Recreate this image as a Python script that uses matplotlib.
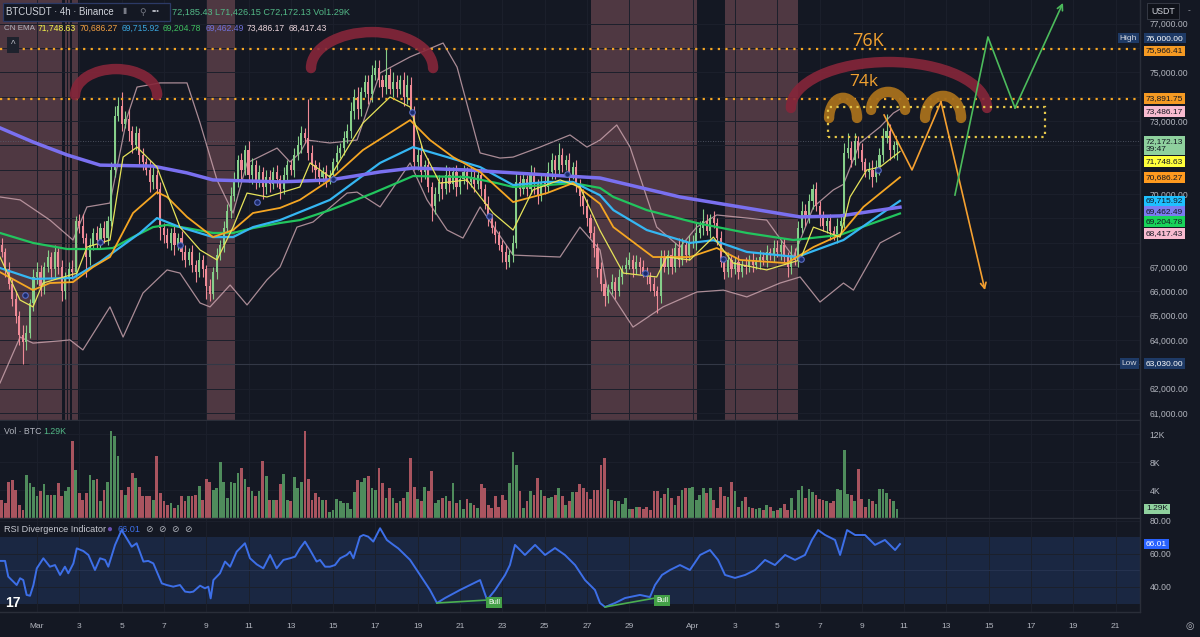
import matplotlib
matplotlib.use("Agg")
import matplotlib.pyplot as plt
import matplotlib.transforms as mtransforms
from matplotlib.patches import Arc, Rectangle, FancyBboxPatch
import numpy as np

plt.rcParams['font.family'] = ['Liberation Sans', 'DejaVu Sans']

# ---------------- data ----------------
# 4h candles from Feb 28 08:00 to Apr 10 16:00, closes in thousand USDT, one row per day
first_open = 67.9
closes_by_day = [
    [67.6, 66.9, 66.3, 65.7],                  # Feb 28
    [65.0, 64.2, 63.9, 64.3, 65.5, 66.6],      # Feb 29
    [66.8, 66.2, 67.0, 67.4, 66.9, 67.6],      # Mar 1
    [67.0, 66.0, 66.6, 66.9, 66.8, 68.9],
    [68.7, 68.2, 67.4, 67.9, 68.4, 68.1],
    [68.6, 68.2, 68.9, 71.0, 73.2, 73.6],
    [72.9, 73.1, 72.6, 72.0, 72.5, 71.6],      # Mar 5
    [71.3, 71.0, 70.5, 70.8, 70.2, 68.6],
    [68.3, 68.0, 68.4, 67.9, 68.2, 67.6],
    [67.3, 67.6, 67.1, 66.8, 67.3, 66.9],
    [66.2, 65.9, 66.8, 67.5, 67.9, 68.6],      # Mar 9
    [69.3, 69.9, 70.6, 71.4, 71.0, 71.8],
    [70.8, 71.2, 70.5, 70.9, 70.3, 70.7],
    [70.4, 70.9, 70.6, 70.2, 70.8, 71.2],
    [71.0, 71.6, 72.0, 72.5, 72.3, 71.7],      # Mar 13
    [71.2, 71.0, 70.7, 70.9, 70.6, 70.8],
    [71.3, 71.7, 71.9, 72.3, 72.6, 73.4],
    [74.0, 73.5, 74.2, 74.6, 74.1, 74.9],
    [75.2, 74.7, 74.4, 74.9, 74.3, 74.6],      # Mar 17
    [74.3, 74.7, 74.0, 74.5, 73.4, 71.3],
    [71.6, 70.9, 71.2, 70.3, 69.5, 70.0],
    [70.5, 70.2, 70.8, 70.4, 70.9, 70.3],
    [70.6, 70.9, 70.5, 70.7, 70.4, 70.8],      # Mar 21
    [70.2, 69.6, 69.0, 68.6, 68.3, 67.9],
    [67.6, 67.2, 67.5, 68.0, 70.5, 70.2],
    [70.6, 70.2, 70.8, 70.4, 69.9, 70.5],
    [70.3, 70.9, 71.4, 71.0, 71.6, 71.2],      # Mar 25
    [71.4, 70.8, 71.1, 70.4, 69.9, 69.5],
    [69.0, 68.4, 67.8, 66.9, 66.3, 65.8],
    [66.1, 66.4, 66.0, 66.6, 66.9, 67.1],
    [67.3, 66.9, 67.2, 67.0, 66.8, 66.6],      # Mar 29
    [66.3, 66.0, 65.8, 67.4, 67.0, 67.5],
    [67.0, 67.8, 67.3, 67.9, 67.5, 68.0],
    [68.0, 68.4, 68.6, 68.9, 68.5, 69.0],      # Apr 1
    [68.8, 68.2, 67.2, 66.8, 67.3, 66.9],
    [67.2, 66.8, 67.1, 67.0, 67.3, 67.1],
    [67.2, 67.4, 67.3, 67.6, 67.5, 67.8],
    [67.6, 67.9, 67.4, 67.0, 67.5, 67.3],      # Apr 5
    [68.6, 69.3, 69.0, 69.7, 70.2, 69.5],
    [69.0, 68.7, 68.9, 68.5, 68.3, 68.7],
    [68.9, 71.7, 71.9, 71.4, 72.2, 71.8],
    [71.3, 70.9, 71.0, 70.7, 71.1, 71.6],
    [72.3, 72.6, 71.8, 72.0, 72.17213],        # Apr 10
]
# upper / lower wick length beyond the body, in hundreds of USDT
wick_up_by_day = [
    [3, 2, 3, 2], [3, 2, 4, 3, 2, 3], [4, 3, 2, 3, 2, 3], [2, 3, 2, 3, 4, 2],
    [3, 5, 2, 3, 2, 3], [2, 3, 2, 3, 4, 4], [6, 3, 4, 2, 3, 2], [3, 2, 4, 3, 2, 3],
    [2, 3, 2, 3, 2, 3], [3, 2, 3, 2, 3, 2], [2, 3, 2, 3, 2, 3], [3, 4, 3, 2, 3, 2],
    [4, 3, 2, 3, 2, 3], [3, 2, 3, 2, 3, 2], [2, 3, 4, 3, 2, 16], [3, 2, 3, 2, 3, 2],
    [2, 3, 2, 3, 3, 4], [3, 4, 2, 3, 3, 4], [3, 3, 2, 11, 3, 4], [3, 2, 3, 4, 3, 2],
    [3, 4, 2, 3, 2, 3], [3, 2, 4, 3, 2, 3], [2, 3, 2, 4, 3, 2], [3, 2, 3, 2, 3, 2],
    [2, 3, 2, 3, 4, 3], [3, 2, 4, 3, 2, 3], [3, 4, 3, 2, 5, 3], [2, 3, 2, 3, 2, 3],
    [3, 2, 3, 2, 3, 2], [2, 3, 2, 3, 2, 3], [3, 2, 3, 2, 3, 2], [2, 3, 2, 3, 3, 2],
    [3, 2, 4, 3, 2, 3], [3, 4, 3, 5, 3, 2], [3, 2, 3, 2, 3, 2], [2, 3, 2, 3, 2, 3],
    [2, 3, 2, 3, 2, 3], [3, 2, 3, 2, 4, 3], [3, 4, 3, 3, 2, 3], [2, 3, 2, 3, 2, 3],
    [3, 4, 6, 3, 3, 2], [3, 2, 3, 4, 3, 3], [4, 7, 3, 2, 0],
]
wick_lo_by_day = [
    [2, 3, 2, 3], [3, 4, 9, 3, 2, 3], [3, 4, 3, 2, 4, 3], [3, 4, 3, 2, 3, 2],
    [3, 2, 8, 3, 2, 3], [3, 2, 3, 2, 3, 2], [3, 2, 4, 3, 2, 4], [3, 2, 4, 3, 2, 5],
    [3, 2, 3, 4, 2, 3], [3, 2, 3, 4, 2, 3], [5, 3, 2, 3, 2, 3], [2, 3, 2, 3, 4, 2],
    [3, 4, 3, 2, 5, 3], [3, 2, 3, 4, 2, 3], [2, 3, 2, 3, 2, 3], [3, 4, 3, 2, 3, 2],
    [2, 3, 2, 3, 2, 3], [3, 4, 3, 2, 4, 3], [2, 3, 4, 3, 2, 3], [3, 2, 4, 3, 2, 3],
    [3, 4, 3, 2, 6, 3], [3, 4, 2, 3, 2, 4], [3, 2, 3, 2, 3, 2], [3, 2, 3, 2, 3, 2],
    [4, 3, 2, 3, 2, 3], [2, 3, 2, 4, 3, 2], [3, 2, 3, 4, 2, 3], [2, 3, 2, 3, 4, 3],
    [3, 2, 4, 3, 3, 4], [3, 2, 3, 2, 3, 2], [2, 3, 2, 3, 2, 3], [3, 2, 7, 3, 2, 3],
    [3, 2, 3, 2, 3, 2], [2, 3, 2, 3, 2, 3], [2, 3, 2, 3, 2, 3], [2, 3, 2, 3, 2, 3],
    [2, 3, 2, 3, 2, 3], [2, 3, 2, 4, 3, 2], [3, 2, 3, 2, 3, 2], [3, 2, 3, 4, 2, 3],
    [2, 3, 2, 3, 2, 3], [3, 2, 3, 4, 2, 3], [3, 2, 4, 3, 6],
]
# volume per candle, thousand BTC
volume_k = [
    2.6, 2.2, 5.2, 5.4, 4.0, 1.9, 1.2, 6.2, 5.0, 4.5, 3.1, 3.8, 4.8, 3.3, 3.3, 3.3, 5.0, 3.1, 3.8, 4.5,
    11.0, 6.9, 3.6, 2.6, 3.6, 6.2, 5.5, 5.6, 2.4, 4.0, 5.2, 12.4, 11.7, 8.8, 4.0, 3.3, 4.5, 6.4, 5.7, 4.5,
    3.1, 3.1, 3.1, 2.6, 8.8, 3.6, 2.4, 1.9, 2.1, 1.4, 1.9, 3.1, 2.4, 3.1, 3.1, 3.3, 4.6, 2.6, 5.6, 5.2,
    4.0, 4.3, 8.0, 5.2, 2.9, 5.2, 5.0, 6.4, 7.1, 5.6, 4.5, 3.8, 3.1, 3.8, 8.1, 6.0, 2.6, 2.6, 2.6, 4.8,
    6.3, 2.6, 2.4, 5.9, 4.3, 5.2, 12.5, 5.6, 2.6, 3.6, 3.0, 2.6, 2.6, 0.8, 1.1, 2.7, 2.5, 2.2, 2.1, 1.3,
    3.7, 5.5, 5.2, 5.7, 6.0, 4.3, 4.0, 7.1, 5.0, 2.9, 4.3, 2.9, 2.2, 2.4, 2.9, 3.7, 8.6, 4.5, 2.7, 2.4,
    4.5, 3.8, 6.7, 2.1, 2.6, 2.9, 3.2, 2.4, 5.0, 2.1, 2.6, 1.3, 2.7, 2.1, 1.9, 1.4, 4.8, 4.3, 1.8, 1.4,
    3.1, 1.6, 3.3, 2.6, 5.0, 9.4, 7.6, 3.8, 1.4, 2.4, 3.8, 3.3, 5.7, 4.0, 3.2, 2.9, 3.0, 3.3, 4.3, 3.2,
    1.9, 2.4, 3.7, 3.7, 4.8, 4.3, 3.7, 2.7, 4.0,
    4.0, 7.6, 8.6, 4.1, 2.6, 2.5, 2.4, 2.0, 2.9, 1.3, 1.3, 1.6, 1.6, 1.3, 1.6, 1.2, 3.8, 3.9, 2.8, 3.5,
    4.3, 2.9, 1.9, 3.2, 4.0, 4.3, 4.3, 4.5, 2.6, 3.3, 4.3, 3.6, 4.3, 2.6, 1.4, 4.5, 3.2, 3.0, 5.2, 3.9,
    1.6, 2.4, 3.0, 1.6, 1.4, 1.3, 1.4, 1.1, 1.9, 1.6, 1.0, 1.2, 1.4, 2.0, 1.2, 2.9, 1.1, 4.0,
    4.6, 2.9, 4.1, 3.7, 3.3, 2.7, 2.6, 2.4, 2.1, 2.4, 4.1, 4.0, 9.7, 3.5, 3.3, 2.4, 7.0, 2.7, 1.6, 2.7,
    2.4, 2.0, 4.1, 4.1, 3.6, 2.7, 2.4, 1.29,
]

# indicator lines: day (0 = Mar 1) and value in thousand USDT
ema200_d = [-1.75, -0.19, 1.42, 2.98, 5.48, 7.09, 8.32, 11.49, 13.85, 16.22, 17.78, 20.33, 22.51, 26.62,
            30.40, 36.08, 37.97, 40.80]
ema200_v = [72.72, 72.14, 71.61, 71.19, 71.15, 70.87, 70.58, 70.50, 70.58, 70.91, 71.07, 70.99, 70.87, 70.66,
            69.88, 69.06, 69.10, 69.46]
ema100_d = [-1.75, -0.19, 1.42, 2.98, 3.59, 4.54, 5.48, 6.15, 7.09, 8.32, 9.27, 10.21, 11.49, 12.43, 13.85,
            15.89, 17.78, 20.33, 21.75, 22.51, 24.11, 25.34, 26.62, 27.25, 28.83, 31.19, 33.56, 35.76, 37.97, 40.80]
ema100_v = [68.40, 67.99, 67.74, 67.74, 67.78, 68.23, 68.64, 68.73, 68.60, 68.40, 68.40, 68.60, 68.81, 68.93, 69.34,
            70.04, 70.74, 70.70, 70.45, 70.29, 70.37, 70.45, 70.25, 69.88, 69.34, 68.81, 68.40, 68.11, 68.32, 69.20]
ema50_d = [-1.75, -0.19, 1.70, 2.98, 4.87, 5.67, 6.76, 8.32, 9.27, 10.21, 11.49, 13.85, 16.22, 17.78, 19.39,
           20.95, 22.51, 24.11, 25.34, 26.62, 27.25, 28.83, 30.87, 31.98, 33.56, 35.92, 38.13, 40.80]
ema50_v = [66.96, 66.51, 66.55, 67.21, 68.40, 69.01, 68.64, 68.23, 68.23, 68.64, 68.93, 69.76, 71.28, 71.93, 71.52,
           71.11, 70.37, 70.50, 70.50, 69.95, 69.34, 68.52, 67.99, 68.10, 67.62, 67.41, 68.11, 69.72]
ema21_d = [-1.75, -0.19, 0.61, 1.70, 2.65, 3.45, 4.54, 5.67, 6.15, 7.09, 8.32, 9.27, 10.21, 11.49, 12.43, 13.85,
           15.41, 17.64, 18.58, 19.67, 20.95, 22.51, 24.11, 25.34, 26.62, 27.25, 29.13, 30.87, 32.14, 33.24, 35.45,
           36.71, 37.97, 39.07, 40.80]
ema21_v = [66.79, 66.05, 66.34, 66.38, 67.00, 67.41, 69.22, 70.08, 69.88, 69.06, 68.23, 68.52, 69.22, 69.43, 69.76,
           70.58, 71.81, 73.04, 72.22, 71.52, 70.91, 69.67, 70.04, 70.45, 69.60, 68.64, 67.41, 67.41, 67.78, 67.29,
           67.16, 67.82, 68.32, 69.47, 70.69]
ema9_d = [-1.75, -0.80, -0.19, 0.28, 1.89, 2.36, 3.45, 4.07, 4.73, 5.67, 6.76, 7.71, 8.51, 9.27, 9.93, 10.87,
          12.43, 12.91, 13.85, 15.41, 16.69, 17.64, 18.25, 19.05, 20.33, 21.56, 22.51, 23.45, 24.73, 25.67, 26.62,
          27.72, 29.30, 29.77, 30.87, 31.98, 32.92, 34.50, 36.08, 36.71, 37.97, 38.44, 39.23, 39.86, 40.80]
ema9_v = [67.41, 65.64, 65.36, 66.34, 66.75, 67.82, 68.11, 71.52, 71.93, 71.11, 68.64, 67.70, 67.29, 68.64, 70.04,
          69.88, 70.29, 71.28, 70.70, 72.92, 73.99, 73.58, 71.81, 70.45, 70.58, 69.22, 68.52, 70.17, 70.58, 70.29,
          68.50, 66.75, 66.59, 67.41, 67.29, 68.23, 67.16, 66.88, 67.29, 68.64, 68.23, 69.88, 70.99, 71.11, 71.75]
bb_up_d = [-1.75, -0.80, 0.61, 1.70, 2.36, 3.45, 4.26, 4.73, 5.82, 7.09, 7.71, 8.51, 9.27, 9.93, 11.35, 11.96,
           12.43, 12.77, 13.85, 15.13, 16.22, 17.64, 19.20, 19.86, 20.95, 21.89, 22.51, 23.78, 25.20, 26.00, 26.62,
           27.41, 28.04, 29.30, 30.40, 31.19, 32.14, 34.50, 35.76, 36.71, 37.65, 38.13, 38.91, 39.86, 40.49, 40.80]
bb_up_v = [69.88, 69.76, 68.93, 68.11, 69.47, 69.63, 73.17, 74.40, 74.57, 74.57, 72.92, 70.58, 69.22, 71.28, 71.89,
           71.32, 71.69, 72.22, 72.10, 72.22, 74.98, 75.64, 76.21, 75.22, 71.69, 71.48, 71.52, 71.93, 72.43, 71.93,
           72.22, 72.84, 71.93, 68.64, 67.82, 68.64, 69.14, 68.93, 67.41, 69.47, 70.17, 70.40, 72.10, 72.76, 73.33,
           73.49]
bb_lo_d = [-1.75, -0.80, -0.19, 1.56, 2.17, 3.45, 4.07, 5.01, 6.15, 6.76, 7.71, 8.18, 9.13, 9.93, 10.87, 11.49,
           12.29, 13.05, 14.66, 15.13, 16.22, 17.64, 18.44, 19.39, 20.14, 20.95, 22.51, 24.73, 25.67, 26.62, 26.94,
           28.18, 29.60, 31.19, 32.45, 33.56, 35.13, 36.08, 37.02, 38.13, 38.60, 39.86, 40.80]
bb_lo_v = [62.23, 64.12, 63.87, 64.00, 63.59, 65.36, 64.12, 65.93, 66.88, 66.75, 65.52, 65.36, 66.26, 65.44, 66.47,
           67.00, 68.64, 68.85, 70.04, 70.08, 69.47, 71.28, 69.76, 68.52, 68.19, 69.47, 67.49, 67.41, 68.64, 67.70,
           66.18, 64.53, 65.36, 65.97, 66.05, 65.77, 66.34, 66.59, 65.56, 66.34, 66.05, 67.99, 68.42]
signal_d = [-0.57, 2.98, 6.76, 10.40, 14.0, 17.73, 21.37, 25.06, 28.75, 32.43, 36.12, 39.76]
signal_v = [65.85, 68.03, 67.90, 69.67, 70.62, 73.37, 69.10, 70.82, 66.75, 67.33, 67.33, 70.99]

rsi_d = [-1.75, -1.51, -1.36, -1.12, -0.96, -0.80, -0.65, -0.49, -0.33, -0.17, -0.01, 0.30, 0.61, 0.85, 1.09, 1.32,
         1.48, 1.72, 1.88, 2.19, 2.43, 2.74, 2.98, 3.22, 3.37, 3.69, 4.00, 4.24, 4.48, 4.71, 5.03, 5.26, 5.50, 5.90,
         6.13, 6.44, 6.76, 7.00, 7.23, 7.39, 7.71, 7.94, 8.10, 8.21, 8.34, 8.65, 8.89, 9.13, 9.44, 9.83, 10.07,
         10.39, 10.70, 11.02, 11.33, 11.65, 11.96, 12.20, 12.43, 12.67, 12.91, 13.22, 13.38, 13.62, 13.85, 14.09,
         14.33, 14.64, 14.80, 14.96, 15.27, 15.43, 15.66, 15.90, 16.22, 16.54, 16.85, 17.08, 17.64, 18.11, 18.58,
         18.91, 19.29, 20.00, 20.47, 20.95, 21.28, 21.66, 22.13, 22.36, 22.60, 23.07, 23.55, 24.02, 24.49, 24.96,
         25.44, 25.91, 26.38, 26.62, 26.86, 27.33, 27.80, 28.51, 28.98, 29.22, 29.55, 29.93, 30.40, 30.87, 31.35,
         31.82, 32.20, 32.53, 33.00, 33.48, 33.95, 34.42, 34.89, 35.37, 35.84, 36.31, 36.64, 36.93, 37.26, 37.73,
         37.97, 38.30, 38.68, 39.15, 39.62, 40.09, 40.57, 40.80]
rsi_v = [55.8, 55.8, 46.3, 43.2, 41.2, 45.3, 44.2, 35.2, 34.7, 41.2, 51.3, 57.4, 52.3, 53.3, 47.3, 52.3, 48.3, 54.3,
         63.4, 61.8, 59.4, 50.3, 57.4, 56.4, 52.3, 65.5, 74.5, 69.5, 64.4, 66.5, 55.4, 55.8, 54.3, 42.2, 41.2, 40.2,
         41.2, 37.2, 36.8, 37.2, 40.8, 39.2, 40.2, 33.1, 44.2, 48.3, 55.4, 52.3, 61.4, 66.5, 57.4, 53.7, 51.3, 59.4,
         51.3, 56.4, 57.4, 58.4, 63.4, 67.5, 62.4, 55.4, 56.4, 52.3, 52.3, 53.3, 57.4, 59.4, 61.4, 57.4, 70.5, 71.5,
         70.5, 67.5, 75.6, 68.5, 65.5, 63.4, 56.4, 47.3, 38.2, 30.3, 33.3, 38.2, 41.2, 44.2, 32.1, 38.2, 47.3, 53.3,
         65.5, 59.4, 65.5, 59.4, 63.6, 59.4, 53.3, 44.2, 38.2, 30.3, 27.9, 30.3, 33.3, 35.2, 33.9, 41.2, 47.3, 50.3,
         53.3, 50.3, 59.4, 62.4, 56.4, 47.3, 45.5, 47.3, 50.3, 56.4, 53.3, 59.4, 56.4, 59.4, 68.5, 74.5, 71.5, 68.5,
         59.4, 74.5, 71.5, 71.5, 65.5, 68.5, 62.4, 66.01]
bull_lines = [([18.91, 21.28], [30.3, 32.1]), ([26.86, 29.22], [27.9, 33.3])]

# shaded session blocks (days)
sessions = [(-1.75, -1.04), (-1.04, 0.47), (0.47, 1.18), (1.32, 1.40), (1.47, 1.56), (1.65, 1.94),
            (8.04, 9.36), (26.19, 31.21), (32.53, 35.98)]

# hand drawn annotations (day, thousand USDT)
red_arcs = [(3.74, 74.07, 3.88, 2.14), (15.84, 75.18, 5.77, 2.96), (40.28, 73.54, 9.27, 3.78)]
brown_humps = [(38.11, 73.13, 1.32, 1.65), (40.24, 73.46, 1.61, 1.48), (42.84, 73.13, 1.70, 1.81)]
box_days, box_prices = (37.40, 47.66), (72.35, 73.58)
bear_path_d = [40.05, 41.37, 42.74, 44.82]
bear_path_v = [73.25, 70.99, 73.79, 66.05]
bull_path_d = [43.40, 44.96, 46.24, 48.51]
bull_path_v = [69.96, 76.46, 73.54, 77.86]

level_high, level_mid = 75966.41, 73891.75
last_price, chart_low, chart_high = 72172.13, 63030.00, 76000.00
bar_high, bar_low = 72185.43, 71426.15
last_vol, last_rsi = 1.29, 66.01
ema_last = [71748.63, 70686.27, 69715.92, 69204.78, 69462.49]
bb_last = [73486.17, 68417.43]

date_ticks = list(range(0, 29, 2)) + list(range(31, 52, 2))
date_labels = ['Mar'] + [str(d + 1) for d in range(2, 29, 2)] + ['Apr'] + [str(d - 30) for d in range(33, 52, 2)]

# ---------------- figure ----------------
BG = '#141823'
GRID = '#1c202c'
SEP = '#2a2e39'
TXT = '#b2b5be'
UP, DOWN = '#86cf8a', '#ef8a96'
VUP, VDOWN = '#4f8c5c', '#a9545f'
W, H = 1200, 637

closes = np.array(sum(closes_by_day, [])) * 1000
n = len(closes)
t = -2 + 8 / 24 + np.arange(n) / 6
opens = np.r_[first_open * 1000, closes[:-1]]
highs = np.maximum(opens, closes) + np.array(sum(wick_up_by_day, [])) * 100
lows = np.minimum(opens, closes) - np.array(sum(wick_lo_by_day, [])) * 100
rising = closes >= opens

fig = plt.figure(figsize=(12, 6.37), dpi=100, facecolor=BG)


def pane(top, bottom):
    a = fig.add_axes([0, 1 - bottom / H, 1140 / W, (bottom - top) / H], facecolor=BG)
    for s in ('top', 'left'):
        a.spines[s].set_visible(False)
    for s in ('right', 'bottom'):
        a.spines[s].set_color(SEP)
        a.spines[s].set_linewidth(1.0)
    a.set_xlim(-1.75, 52.15)
    a.set_xticks(date_ticks)
    a.grid(True, color=GRID, lw=0.7, zorder=0)
    a.set_axisbelow(True)
    a.yaxis.tick_right()
    a.tick_params(axis='y', length=0, pad=7, labelsize=6.2, labelcolor=TXT)
    a.tick_params(axis='x', length=0, labelbottom=False)
    return a


def ftext(x, y, s, **kw):
    kw.setdefault('va', 'center')
    return fig.text(x / W, 1 - y / H, s, **kw)


def tag(a, y, s, fc, tc='#131722', dy=0, dx=6, ha='left'):
    tr = mtransforms.blended_transform_factory(a.transAxes, a.transData)
    a.annotate(s, xy=(1, y), xycoords=tr, xytext=(dx, dy), textcoords='offset pixels',
               ha=ha, va='center', fontsize=6.0, color=tc, annotation_clip=False, zorder=20,
               linespacing=1.25, bbox=dict(boxstyle='square,pad=0.22', fc=fc, ec='none'))


# ---- price pane
ax = pane(0, 420)
ax.set_ylim(60709, 77979)
price_ticks = np.arange(61000, 77001, 1000)
covered = {76000, 74000, 72000, 71000, 69000, 68000, 63000}   # hidden behind the price tags
ax.set_yticks(price_ticks)
ax.set_yticklabels(['' if v in covered else f'{v:,.2f}' for v in price_ticks])

for a0, a1 in sessions:
    ax.axvspan(a0, a1, color='#c97b84', alpha=0.33, lw=0, zorder=0.5)

ax.plot(bb_up_d, np.array(bb_up_v) * 1000, color='#cfa8b2', lw=0.9, alpha=0.8, zorder=2)
ax.plot(bb_lo_d, np.array(bb_lo_v) * 1000, color='#cfa8b2', lw=0.9, alpha=0.8, zorder=2)

ax.vlines(t, lows, highs, colors=np.where(rising, UP, DOWN), lw=0.8, zorder=3)
ax.bar(t, np.maximum(np.abs(closes - opens), 25), bottom=np.minimum(opens, closes), width=0.1,
       color=np.where(rising, UP, DOWN), lw=0, zorder=3)

ax.plot(ema100_d, np.array(ema100_v) * 1000, color='#22c55e', lw=1.6, zorder=4)
ax.plot(ema50_d, np.array(ema50_v) * 1000, color='#35b6f2', lw=1.6, zorder=4)
ax.plot(ema200_d, np.array(ema200_v) * 1000, color='#7a70f0', lw=2.5, zorder=4)
ax.plot(ema21_d, np.array(ema21_v) * 1000, color='#f5a623', lw=1.3, zorder=4)
ax.plot(ema9_d, np.array(ema9_v) * 1000, color='#e6e35a', lw=0.9, zorder=4)
ax.scatter(signal_d, np.array(signal_v) * 1000, s=16, c='#1b2a6b', edgecolors='#5c6fc4', lw=0.8, zorder=5)

dots = (0, (1, 2.4))
ax.axhline(level_high, color='#f5a623', lw=1.6, ls=dots, zorder=6)
ax.axhline(level_mid, color='#f5a623', lw=1.6, ls=dots, zorder=6)
ax.axhline(last_price, color='#5a6070', lw=0.6, ls=(0, (1, 2)), zorder=2)
ax.hlines(chart_low, -0.4, 52.15, color='#333846', lw=0.8, zorder=1)

for cx, cy, w, h in red_arcs:
    ax.add_patch(Arc((cx, cy * 1000), w, h * 1000, theta1=-8, theta2=188, color='#86263a',
                     lw=7.5, alpha=0.9, capstyle='round', zorder=7))
for cx, cy, w, h in brown_humps:
    ax.add_patch(Arc((cx, cy * 1000), w, h * 1000, theta1=-40, theta2=220, color='#a8701c',
                     lw=7.5, alpha=0.95, capstyle='round', zorder=7))
ax.add_patch(Rectangle((box_days[0], box_prices[0] * 1000), box_days[1] - box_days[0],
                       (box_prices[1] - box_prices[0]) * 1000, fill=False, ec='#e6c84a', lw=1.6,
                       ls=(0, (1, 2)), zorder=7))
ax.text(39.29, 76290, '76K', color='#f0a030', fontsize=13, ha='center', va='center',
        family=['Open Sans', 'DejaVu Sans'], zorder=8)
ax.text(39.10, 74610, '74k', color='#f0a030', fontsize=12.5, ha='center', va='center',
        family=['Open Sans', 'DejaVu Sans'], zorder=8)

bv = np.array(bear_path_v) * 1000
ax.plot(bear_path_d[:-1], bv[:-1], color='#f5a030', lw=1.2, zorder=8)
ax.annotate('', xy=(bear_path_d[-1], bv[-1]), xytext=(bear_path_d[-2], bv[-2]),
            arrowprops=dict(arrowstyle='->', color='#f5a030', lw=1.2, shrinkA=0, shrinkB=0,
                            mutation_scale=10), zorder=8)
gv = np.array(bull_path_v) * 1000
ax.plot(bull_path_d[:-1], gv[:-1], color='#4cbb5c', lw=1.2, zorder=8)
ax.annotate('', xy=(bull_path_d[-1], gv[-1]), xytext=(bull_path_d[-2], gv[-2]),
            arrowprops=dict(arrowstyle='->', color='#4cbb5c', lw=1.2, shrinkA=0, shrinkB=0,
                            mutation_scale=10), zorder=8)

# price scale tags
NAVY = '#1e3a66'
tag(ax, chart_high, 'High', NAVY, '#d1d4dc', dy=10, dx=-3, ha='right')
tag(ax, chart_high, f'{chart_high:,.2f}', NAVY, 'white', dy=10)
tag(ax, level_high, f'{level_high:,.2f}', '#f59a23', dy=-2)
tag(ax, level_mid, f'{level_mid:,.2f}', '#f59a23', dy=1)
tag(ax, bb_last[0], f'{bb_last[0]:,.2f}', '#f8bbd0', dy=-2)
tag(ax, last_price, f'{last_price:,.2f}\n39:47', '#8fd19e', dy=-4)
tag(ax, ema_last[0], f'{ema_last[0]:,.2f}', '#ffff3b', dy=-10)
tag(ax, ema_last[1], f'{ema_last[1]:,.2f}', '#ff9a1f')
tag(ax, ema_last[2], f'{ema_last[2]:,.2f}', '#1ec0ff')
tag(ax, ema_last[4], f'{ema_last[4]:,.2f}', '#7b7bf0', dy=-4)
tag(ax, ema_last[3], f'{ema_last[3]:,.2f}', '#19d35a', dy=-8)
tag(ax, bb_last[1], f'{bb_last[1]:,.2f}', '#f8bbd0', dy=-1)
tag(ax, chart_low, 'Low', NAVY, '#d1d4dc', dx=-3, ha='right')
tag(ax, chart_low, f'{chart_low:,.2f}', NAVY, 'white')

# ---- volume pane
axv = pane(421, 518)
axv.set_ylim(0, 13860)
axv.set_yticks([4000, 8000, 12000])
axv.set_yticklabels(['4K', '8K', '12K'])
axv.bar(t, np.array(volume_k) * 1000, width=0.13, color=np.where(rising, VUP, VDOWN), lw=0, zorder=2)
tag(axv, last_vol * 1000, f'{last_vol:.2f}K', '#8fd19e')

# ---- RSI pane
axr = pane(519, 612)
axr.set_ylim(24.85, 81.2)
axr.set_yticks([40, 60, 80])
axr.set_yticklabels(['40.00', '60.00', '80.00'])
axr.axhspan(30, 70, color='#1a2742', lw=0, zorder=0.5)
axr.axhline(50, color='#263350', lw=0.7, zorder=0.6)
axr.plot(rsi_d, rsi_v, color='#3d6fe8', lw=1.4, zorder=3)
for xs, ys in bull_lines:
    axr.plot(xs, ys, color='#4caf50', lw=1.2, zorder=4)
    axr.text(xs[1] + 0.05, ys[1] - 1.5, 'Bull', fontsize=5, color='white', ha='left', va='center',
             zorder=5, bbox=dict(boxstyle='square,pad=0.3', fc='#43a047', ec='none'))
tag(axr, last_rsi, f'{last_rsi:.2f}', '#2962ff', 'white')
axr.tick_params(axis='x', labelbottom=True, pad=8, labelsize=6, labelcolor=TXT)
axr.set_xticklabels(date_labels)

# ---- header & chrome
fig.add_artist(FancyBboxPatch((3 / W, 1 - 21 / H), 167 / W, 18 / H, boxstyle='square,pad=0',
                              transform=fig.transFigure, fc=BG, ec='#2c3a66', lw=0.9))
ftext(6, 12, 'BTCUSDT · 4h · Binance', fontsize=6.9, color='#d1d4dc')
ftext(122, 12, '▮', fontsize=5.5, color='#787b86')
ftext(139, 12, '⚲', fontsize=6.5, color='#787b86')
ftext(152, 12, '•••', fontsize=5.5, color='#b2b5be')
ftext(172, 12, f'{bar_high:,.2f} L{bar_low:,.2f} C{last_price:,.2f} Vol{last_vol:.2f}K', fontsize=6.6,
      color='#53b987')
ftext(4, 28, 'CN EMA', fontsize=5.8, color=TXT)
for xp, val, col in zip([38, 80, 122, 163, 206, 247, 289],
                        [ema_last[0], ema_last[1], ema_last[2], ema_last[3], ema_last[4]] + bb_last,
                        ['#f2f24a', '#f5a142', '#3aa7e0', '#3fbf60', '#7070d8', '#ecd6dc', '#ecd6dc']):
    ftext(xp, 28, f'{val:,.2f}', fontsize=6.2, color=col)
ftext(13, 45, '^', fontsize=7, color='#b2b5be', ha='center',
      bbox=dict(boxstyle='square,pad=0.35', fc='#1e222d', ec='none'))

ftext(1151, 11, 'USDT', fontsize=6.3, color='#d1d4dc',
      bbox=dict(boxstyle='square,pad=0.45', fc='#0f121a', ec='#3a3e4a', lw=0.6))
ftext(1188, 11, '-', fontsize=6, color='#b2b5be')

ftext(4, 432, 'Vol · BTC', fontsize=6.3, color=TXT)
ftext(43, 432, f'{last_vol:.2f}K', fontsize=6.3, color='#53b987')
ftext(4, 529, 'RSI Divergence Indicator', fontsize=6.6, color='#c8cad2')
ftext(109, 529, '●', fontsize=7, color='#6a4fb0', ha='center')
ftext(118, 529, f'{last_rsi:.2f}', fontsize=6.6, color='#3d6fe8')
for xp in (149, 162, 175, 188):
    ftext(xp, 529, '⊘', fontsize=6.5, color='#b2b5be', ha='center')
ftext(5, 603, '17', fontsize=10, color='white', weight='bold')
ftext(1190, 626, '◎', fontsize=7, color='#b2b5be', ha='center')

fig.savefig('out.png', dpi=100, facecolor=BG)
